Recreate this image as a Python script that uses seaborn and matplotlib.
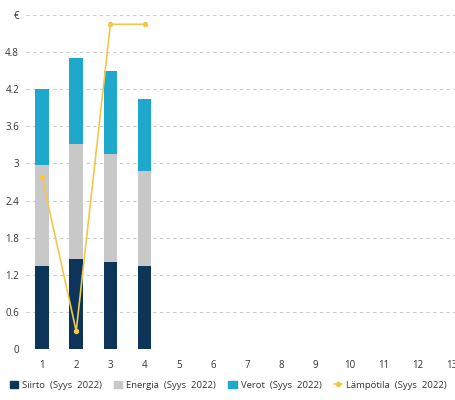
import matplotlib
matplotlib.use("Agg")
import matplotlib.pyplot as plt
import seaborn as sns
import pandas as pd
from matplotlib.lines import Line2D

hours = [str(i) for i in range(1, 14)]
days = ["1", "2", "3", "4"]
siirto = [1.35, 1.45, 1.40, 1.34]
energia = [1.62, 1.87, 1.76, 1.53]
verot = [1.24, 1.39, 1.33, 1.18]
lampotila = [2.78, 0.29, 5.25, 5.25]

yticks = [0, 0.6, 1.2, 1.8, 2.4, 3, 3.6, 4.2, 4.8, 5.4]
ytick_labels = ["0", "0.6", "1.2", "1.8", "2.4", "3", "3.6", "4.2", "4.8", "€"]

c_siirto = "#0c3559"
c_energia = "#c8c8c8"
c_verot = "#1ea8cc"
c_temp = "#f2c84b"

df = pd.DataFrame({"day": days, "siirto": siirto, "energia": energia,
                   "verot": verot, "temp": lampotila})
df["s2"] = df["siirto"] + df["energia"]
df["s3"] = df["s2"] + df["verot"]

sns.set_theme(style="white")
plt.rcParams["font.family"] = ["Open Sans", "DejaVu Sans"]

fig = plt.figure(figsize=(4.56, 4.0), dpi=100)
ax = fig.add_axes([0.057, 0.1275, 0.943, 0.835])

# stacked bars: draw totals first, then overlay lower parts
for col, color in [("s3", c_verot), ("s2", c_energia), ("siirto", c_siirto)]:
    sns.barplot(data=df, x="day", y=col, order=hours, color=color,
                width=0.4, saturation=1, ax=ax, edgecolor="none")

sns.pointplot(data=df, x="day", y="temp", order=hours, color=c_temp,
              markers="o", markersize=3, linewidth=1.2, ax=ax)

ax.set_xlim(-0.47, 12.12)
ax.set_ylim(0, 5.4)
ax.set_yticks(yticks)
ax.set_yticklabels(ytick_labels)
ax.yaxis.grid(True, color="#cccccc", linestyle=(0, (3, 3)), linewidth=0.8)
ax.set_axisbelow(True)
for s in ax.spines.values():
    s.set_visible(False)
ax.set_xlabel("")
ax.set_ylabel("")
ax.tick_params(axis="both", labelsize=7, colors="#333333", length=0)
ax.tick_params(axis="x", pad=8)
ax.tick_params(axis="y", pad=5)

handles = [
    plt.Rectangle((0, 0), 1, 1, color=c_siirto),
    plt.Rectangle((0, 0), 1, 1, color=c_energia),
    plt.Rectangle((0, 0), 1, 1, color=c_verot),
    Line2D([0], [0], color=c_temp, marker="o", markersize=3, linewidth=1.2),
]
labels = ["Siirto  (Syys  2022)", "Energia  (Syys  2022)",
          "Verot  (Syys  2022)", "Lämpötila  (Syys  2022)"]
fig.legend(handles, labels, loc="center", bbox_to_anchor=(0.5, 0.037), ncol=4,
           frameon=False, fontsize=6.8, handlelength=0.9, handleheight=0.9,
           handletextpad=0.4, columnspacing=1.3, labelcolor="#333333")

fig.savefig("out.png", dpi=100)
